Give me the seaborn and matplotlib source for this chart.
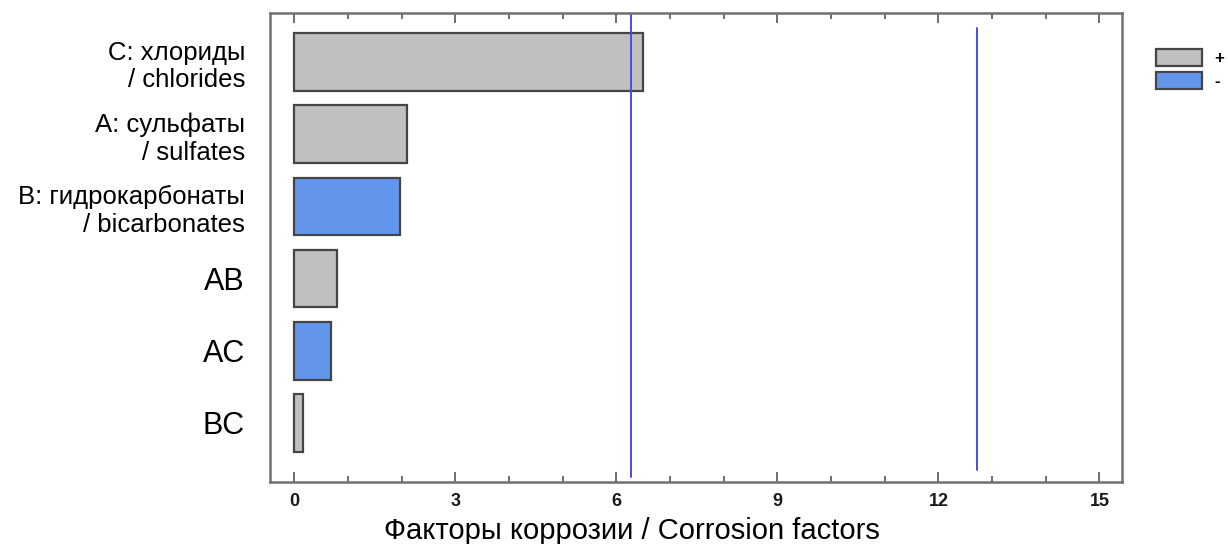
import numpy as np
import pandas as pd
import matplotlib
matplotlib.use("Agg")
import matplotlib.pyplot as plt
import seaborn as sns
from matplotlib.ticker import MultipleLocator

# data
factors = ["C: хлориды\n/ chlorides", "A: сульфаты\n/ sulfates",
           "B: гидрокарбонаты\n/ bicarbonates", "AB", "AC", "BC"]
effects = [6.5, 2.1, 1.97, 0.8, 0.69, 0.17]
signs = ["+", "+", "-", "+", "-", "+"]
crit_lines = [6.27, 12.71]
x_ticks = [0, 3, 6, 9, 12, 15]

df = pd.DataFrame({"factor": factors, "effect": effects, "sign": signs})

sns.set_style("white")
plt.rcParams["font.family"] = ["Liberation Sans", "DejaVu Sans"]
plt.rcParams["text.color"] = "black"
plt.rcParams["axes.labelcolor"] = "black"
plt.rcParams["ytick.color"] = "black"

fig = plt.figure(figsize=(12.28, 5.44), dpi=100)
ax = fig.add_axes([0.2199, 0.114, 0.6938, 0.862])

sns.barplot(data=df, x="effect", y="factor", hue="sign", hue_order=["+", "-"],
            palette={"+": "#c0c0c0", "-": "#6495ed"}, saturation=1, dodge=False,
            width=0.8, edgecolor="#454545", linewidth=1.6, ax=ax)

# critical value lines
ax.axvline(crit_lines[0], ymin=0.01, ymax=1.0, color="#4b4be6", lw=1.4)
ax.axvline(crit_lines[1], ymin=0.026, ymax=0.968, color="#4b4be6", lw=1.4)

ax.set_xlim(-0.45, 15.42)
ax.set_ylim(5.82, -0.68)

ax.set_xticks(x_ticks)
ax.xaxis.set_minor_locator(MultipleLocator(1))
ax.tick_params(axis="x", which="major", direction="in", length=7, width=1.2,
               color="#555555", top=True, bottom=True, pad=8)
ax.tick_params(axis="x", which="minor", direction="in", length=4, width=1.2,
               color="#555555", top=True, bottom=True)
for lab in ax.get_xticklabels():
    lab.set_fontweight("bold")
    lab.set_fontsize(13)
    lab.set_color("#1a1a1a")

ax.tick_params(axis="y", length=0, pad=18)
for lab, f in zip(ax.get_yticklabels(), factors):
    lab.set_fontsize(18.5 if "\n" in f else 22)
    lab.set_ha("right")
    lab.set_multialignment("right")
    lab.set_linespacing(1.2)
    lab.set_color("black")

for s in ax.spines.values():
    s.set_visible(True)
    s.set_color("#707070")
    s.set_linewidth(1.8)

ax.set_ylabel("")
ax.set_xlabel("Факторы коррозии / Corrosion factors", fontsize=21, labelpad=2)
ax.xaxis.set_label_coords(0.425, -0.075)

leg = ax.legend(loc="upper left", bbox_to_anchor=(1.022, 0.955), frameon=False,
                handlelength=2.8, handleheight=1.2, labelspacing=0.35,
                handletextpad=0.7, fontsize=12)
for t in leg.get_texts():
    t.set_fontweight("bold")

fig.savefig("out.png", dpi=100)
